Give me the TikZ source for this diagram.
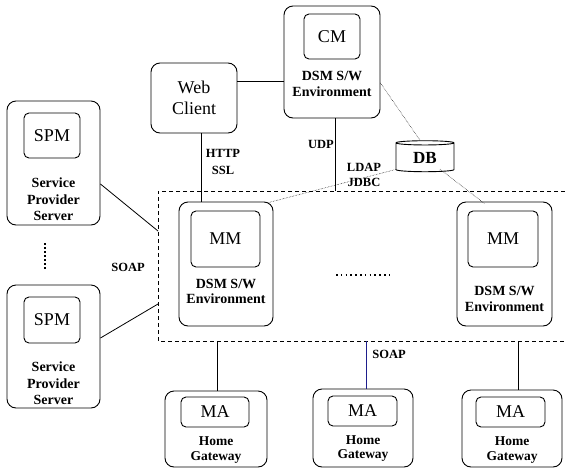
\documentclass[tikz,border=0pt]{standalone}
\usepackage{fontspec}
\setmainfont{Liberation Serif}
\usetikzlibrary{shapes.geometric}
\begin{document}
\begin{tikzpicture}[x=1pt,y=-1pt,
  line width=0.8pt,
  obox/.style={draw, rounded corners=9pt, line width=0.9pt},
  ibox/.style={draw, rounded corners=5pt, line width=0.9pt},
  big/.style={font=\fontsize{18}{21.5}\selectfont},
  lbl/.style={font=\bfseries\fontsize{14}{15.5}\selectfont, align=center, inner sep=0pt},
  small/.style={font=\bfseries\fontsize{13.5}{14.5}\selectfont, align=center, inner sep=0pt},
  proto/.style={font=\bfseries\fontsize{12.5}{15}\selectfont, align=center, inner sep=0pt},
  link/.style={line width=0.8pt},
  dbl/.style={line width=0.5pt, densely dotted},
  bound/.style={dashed, line width=0.8pt, dash pattern=on 4pt off 3pt}]
\useasboundingbox (0,0) rectangle (565,469);

% central manager
\node[obox, minimum width=96pt, minimum height=112pt] (cmo) at (332,62) {};
\node[ibox, big, minimum width=56pt, minimum height=45pt] (cmi) at (332,36.5) {CM};
\node[lbl] (cmt) at (332,84) {DSM S/W\\Environment};

% web client
\node[obox, big, align=center, minimum width=86pt, minimum height=70pt] (web) at (194,98) {Web\\Client};

% database
\node[draw, cylinder, shape border rotate=90, aspect=0.18, minimum width=58pt, minimum height=31pt,
      line width=0.9pt, font=\bfseries\fontsize{17}{19}\selectfont, inner sep=0pt] (db) at (425,157.5) {DB};

% service provider servers
\node[obox, minimum width=93pt, minimum height=124pt] (spm1) at (53.5,163) {};
\node[ibox, big, minimum width=56pt, minimum height=45pt] (spm1i) at (52,135.5) {SPM};
\node[lbl, font=\bfseries\fontsize{14}{16.5}\selectfont] (spm1t) at (53.5,199.5) {Service\\Provider\\Server};
\node[obox, minimum width=93pt, minimum height=123pt] (spm2) at (53.5,346.5) {};
\node[ibox, big, minimum width=56pt, minimum height=46pt] (spm2i) at (52,320) {SPM};
\node[lbl, font=\bfseries\fontsize{14}{16.5}\selectfont] (spm2t) at (53.5,383.5) {Service\\Provider\\Server};
\coordinate (vdA) at (45,243);
\coordinate (vdB) at (45,270);
\draw[line width=1.6pt, dash pattern=on 1.6pt off 2.4pt] (vdA) -- (vdB);

% managed domain
\coordinate (dtr) at (565,191);
\coordinate (dtl) at (158,191);
\coordinate (dbl) at (158,341);
\coordinate (dbr) at (565,341);
\draw[bound] (dtr) -- (dtl) -- (dbl) -- (dbr);

\node[obox, minimum width=94pt, minimum height=124pt] (mm1) at (226,264) {};
\node[ibox, big, minimum width=69pt, minimum height=56pt] (mm1i) at (225.5,239) {MM};
\node[lbl] (mm1t) at (226,291.5) {DSM S/W\\Environment};
\node[obox, minimum width=95pt, minimum height=124pt] (mm2) at (504.5,264) {};
\node[ibox, big, minimum width=70pt, minimum height=56pt] (mm2i) at (503,239) {MM};
\node[lbl] (mm2t) at (504.5,299) {DSM S/W\\Environment};
\coordinate (hdA) at (336,275);
\coordinate (hdB) at (389,275);
\draw[line width=1.6pt, dash pattern=on 1.6pt off 3.2pt] (hdA) -- (hdB);

% home gateways
\node[obox, minimum width=102pt, minimum height=76pt] (ma1) at (216,429) {};
\node[ibox, big, minimum width=68pt, minimum height=30pt] (ma1i) at (215,412) {MA};
\node[small] (ma1t) at (216,450) {Home\\Gateway};
\node[obox, minimum width=100pt, minimum height=78pt] (ma2) at (363,428) {};
\node[ibox, big, minimum width=69pt, minimum height=30pt] (ma2i) at (362.5,411) {MA};
\node[small] (ma2t) at (363,448.5) {Home\\Gateway};
\node[obox, minimum width=100pt, minimum height=77pt] (ma3) at (512,428.5) {};
\node[ibox, big, minimum width=69pt, minimum height=30pt] (ma3i) at (510.5,412) {MA};
\node[small] (ma3t) at (512,450) {Home\\Gateway};

% connections
\coordinate (wc) at ([yshift=17pt]web.east);
\draw[link] (wc) -- (wc -| cmo.west);
\coordinate (wd) at ([xshift=7pt]web.south);
\draw[link] (wd) -- (wd |- mm1.north);
\coordinate (ud) at ([xshift=3pt]cmo.south);
\draw[link] (ud) -- (ud |- dtl);

\coordinate (sa) at (158,231);
\coordinate (sb) at (158,304);
\draw[link] ([yshift=-21pt]spm1.east) -- (sa);
\draw[link] ([yshift=8.5pt]spm2.east) -- (sb);

\draw[link] ([xshift=1pt]ma1.north |- dbl) -- ([xshift=1pt]ma1.north);
\draw[link, draw={rgb,255:red,30;green,30;blue,140}] ([xshift=3pt]ma2.north |- dbl) -- ([xshift=3pt]ma2.north);
\draw[link] ([xshift=6pt]ma3.north |- dbl) -- ([xshift=6pt]ma3.north);

\draw[dbl] ([yshift=-21pt]cmo.east) -- ([xshift=-5pt]db.north);
\draw[dbl] ([yshift=-12pt]db.west) -- ([xshift=-5pt,yshift=-1pt]mm1.north east);
\draw[dbl] ([xshift=15pt,yshift=3pt]db.south) -- ([xshift=-20pt,yshift=-2pt]mm2.north);

% protocol labels
\node[proto, font=\bfseries\fontsize{12.5}{17}\selectfont] (http) at (223,161.5) {HTTP\\SSL};
\node[proto] (udp) at (321,144) {UDP};
\node[proto] (ldap) at (364,175) {LDAP\\JDBC};
\node[proto] (soap1) at (128,267) {SOAP};
\node[proto] (soap2) at (389,354) {SOAP};
\end{tikzpicture}
\end{document}
